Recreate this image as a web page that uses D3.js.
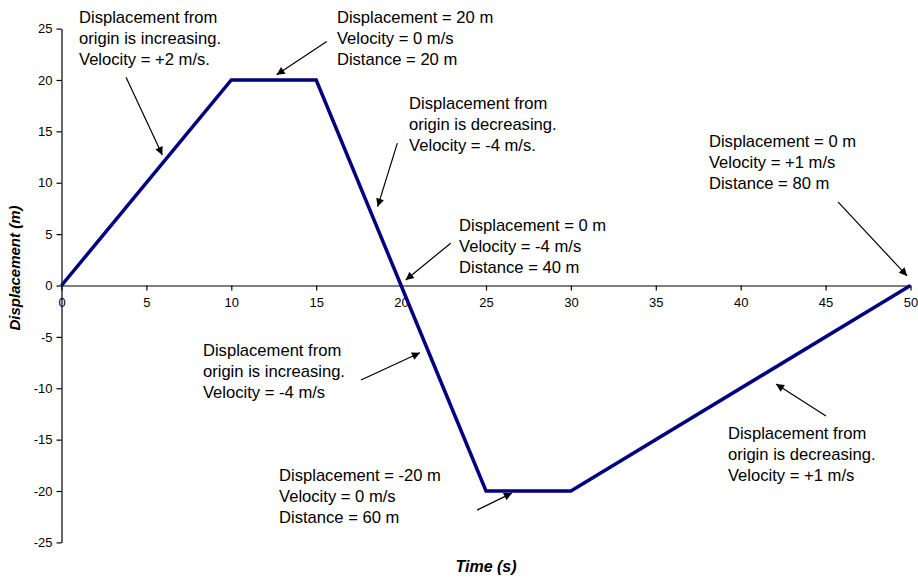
<!DOCTYPE html>
<html>
<head>
<meta charset="utf-8">
<script src="https://cdn.jsdelivr.net/npm/d3@7/dist/d3.min.js"></script>
<style>
  html, body { margin: 0; padding: 0; background: #fff; }
  svg { display: block; font-family: "Liberation Sans", Arial, sans-serif; }
</style>
</head>
<body>
<svg id="chart" width="918" height="579"></svg>
<script>
// ---- data ----
const times = [0, 10, 15, 20, 25, 30, 50];
const displacements = [0, 20, 20, 0, -20, -20, 0];
const xTicks = [0, 5, 10, 15, 20, 25, 30, 35, 40, 45, 50];
const yTicks = [25, 20, 15, 10, 5, 0, -5, -10, -15, -20, -25];
const xTitle = "Time (s)";
const yTitle = "Displacement (m)";

// annotation text, anchored in data units (time, displacement)
const noteLines = [
  ["Displacement from", "origin is increasing.", "Velocity = +2 m/s."],
  ["Displacement = 20 m", "Velocity = 0 m/s", "Distance = 20 m"],
  ["Displacement from", "origin is decreasing.", "Velocity = -4 m/s."],
  ["Displacement = 0 m", "Velocity = -4 m/s", "Distance = 40 m"],
  ["Displacement = 0 m", "Velocity = +1 m/s", "Distance = 80 m"],
  ["Displacement from", "origin is increasing.", "Velocity = -4 m/s"],
  ["Displacement = -20 m", "Velocity = 0 m/s", "Distance = 60 m"],
  ["Displacement from", "origin is decreasing.", "Velocity = +1 m/s"]
];
const noteT = [1.03, 16.22, 20.47, 23.41, 38.13, 8.33, 12.81, 39.25];
const noteD = [25.56, 25.56, 17.16, 5.34, 13.49, -6.86, -19.04, -14.95];
// arrows: start (t,d) -> end (t,d)
const arrowT0 = [3.80, 15.62, 19.78, 22.92, 45.73, 17.64, 24.47, 45.02];
const arrowD0 = [20.27, 23.74, 13.85, 4.11, 8.13, -9.2, -21.86, -12.71];
const arrowT1 = [5.94, 12.67, 18.62, 20.27, 49.8, 21.11, 26.53, 42.08];
const arrowD1 = [12.7, 20.5, 7.67, 0.54, 0.93, -6.55, -20.2, -9.59];

// ---- layout ----
const svg = d3.select("#chart");
const mLeft = 61.5, mRight = 910.5, mTop = 28.6, mBottom = 542.4;
const x = d3.scaleLinear().domain([0, 50]).range([mLeft, mRight]);
const y = d3.scaleLinear().domain([-25, 25]).range([mBottom, mTop]);

// arrow marker
svg.append("defs").append("marker")
  .attr("id", "ah").attr("viewBox", "0 0 10 10")
  .attr("refX", 10).attr("refY", 5)
  .attr("markerWidth", 10).attr("markerHeight", 8)
  .attr("markerUnits", "userSpaceOnUse")
  .attr("orient", "auto")
  .append("path").attr("d", "M0,0 L10,5 L0,10 Z").attr("fill", "#000");

// y axis
const yAxis = d3.axisLeft(y).tickValues(yTicks).tickSize(5).tickSizeOuter(0).tickPadding(4)
  .tickFormat(d => String(d));
const gy = svg.append("g").attr("transform", `translate(${mLeft},0)`).call(yAxis);
gy.select(".domain").attr("stroke", "#000").attr("stroke-width", 1.2);
gy.selectAll(".tick line").attr("stroke", "#000").attr("stroke-width", 1.2);
gy.selectAll(".tick text").attr("font-size", 13).attr("fill", "#000")
  .attr("font-family", "Liberation Sans, Arial, sans-serif");

// x axis at y = 0
const xAxis = d3.axisBottom(x).tickValues(xTicks).tickSize(5).tickSizeOuter(0).tickPadding(7)
  .tickFormat(d => String(d));
const gx = svg.append("g").attr("transform", `translate(0,${y(0)})`).call(xAxis);
gx.select(".domain").attr("stroke", "#000").attr("stroke-width", 1.2);
gx.selectAll(".tick line").attr("stroke", "#000").attr("stroke-width", 1.2);
gx.selectAll(".tick text").attr("font-size", 13).attr("fill", "#000")
  .attr("font-family", "Liberation Sans, Arial, sans-serif");

// axis titles
svg.append("text")
  .attr("x", (mLeft + mRight) / 2).attr("y", 572)
  .attr("text-anchor", "middle")
  .attr("font-size", 16).attr("font-weight", "bold").attr("font-style", "italic")
  .text(xTitle);
svg.append("text")
  .attr("transform", `translate(20,268) rotate(-90)`)
  .attr("text-anchor", "middle")
  .attr("font-size", 15).attr("font-weight", "bold").attr("font-style", "italic")
  .text(yTitle);

// series line
const pts = times.map((t, i) => [t, displacements[i]]);
svg.append("path")
  .datum(pts)
  .attr("fill", "none").attr("stroke", "#000080").attr("stroke-width", 3.5)
  .attr("stroke-linejoin", "miter")
  .attr("d", d3.line().x(d => x(d[0])).y(d => y(d[1])));

// annotations
noteLines.forEach((lines, i) => {
  const t = svg.append("text")
    .attr("x", x(noteT[i])).attr("y", y(noteD[i]))
    .attr("font-size", 16.6).attr("fill", "#000");
  lines.forEach((ln, j) => {
    t.append("tspan").attr("x", x(noteT[i])).attr("dy", j === 0 ? 0 : 21).text(ln);
  });
});

// arrows
arrowT0.forEach((t0, i) => {
  svg.append("line")
    .attr("x1", x(t0)).attr("y1", y(arrowD0[i]))
    .attr("x2", x(arrowT1[i])).attr("y2", y(arrowD1[i]))
    .attr("stroke", "#000").attr("stroke-width", 1.2)
    .attr("marker-end", "url(#ah)");
});
</script>
</body>
</html>
